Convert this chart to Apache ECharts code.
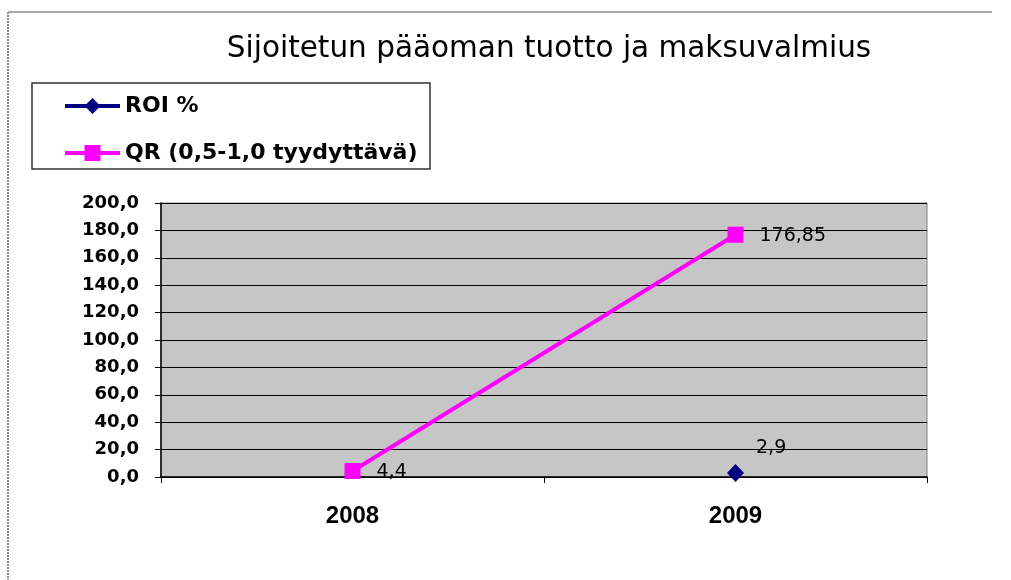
<!DOCTYPE html>
<html>
<head>
<meta charset="utf-8">
<script src="https://cdn.jsdelivr.net/npm/echarts@6/dist/echarts.min.js"></script>
<style>
  html, body { margin: 0; padding: 0; background: #fff; }
  #chart { width: 1011px; height: 580px; }
</style>
</head>
<body>
<div id="chart"></div>
<script>
// vuodet ja sarjat
var years = ['2008', '2009'];
var roi = [null, 2.9];
var qr = [4.4, 176.85];
var yTicks = { min: 0, max: 200, step: 20 };

function fi(v, d) {
    return v.toFixed(d).replace('.', ',');
}
function lbl(p) {
    return String(p.value).replace('.', ',');
}

var chart = echarts.init(document.getElementById('chart'));
chart.setOption({
    backgroundColor: '#fff',
    textStyle: { fontFamily: 'DejaVu Sans, sans-serif' },
    title: {
        text: 'Sijoitetun pääoman tuotto ja maksuvalmius',
        left: 544,
        textAlign: 'center',
        top: 29,
        textStyle: { fontSize: 29.5, fontWeight: 'normal', color: '#000', fontFamily: 'DejaVu Sans' }
    },
    legend: {
        orient: 'vertical',
        left: 32,
        top: 83,
        padding: [12, 8, 6, 31],
        itemGap: 25,
        itemWidth: 55,
        itemHeight: 20,
        borderWidth: 0,
        lineStyle: { width: 4 },
        textStyle: { fontSize: 22, fontWeight: 'bold', color: '#000', fontFamily: 'DejaVu Sans' },
        data: ['ROI %', 'QR (0,5-1,0 tyydyttävä)']
    },
    grid: { left: 161, right: 84, top: 203, bottom: 103, show: true, backgroundColor: '#c6c6c6', borderColor: '#808080', borderWidth: 1 },
    xAxis: {
        type: 'category',
        data: years,
        axisLine: { lineStyle: { color: '#000', width: 1.5 } },
        axisTick: { show: true, length: 6, lineStyle: { color: '#000' } },
        axisLabel: { fontSize: 24, fontWeight: 'bold', color: '#000', margin: 27, fontFamily: 'Liberation Sans' }
    },
    yAxis: {
        type: 'value',
        min: yTicks.min,
        max: yTicks.max,
        interval: yTicks.step,
        axisLine: { show: true, lineStyle: { color: '#000', width: 1.5 } },
        axisTick: { show: true, length: 6, lineStyle: { color: '#000' } },
        splitLine: { lineStyle: { color: '#000', width: 1.2 } },
        axisLabel: {
            fontSize: 18, fontWeight: 'bold', color: '#000', margin: 22,
            padding: [4, 0, 0, 0],
            formatter: function (v) { return fi(v, 1); }
        }
    },
    series: [
        {
            name: 'ROI %',
            type: 'line',
            data: roi,
            symbol: 'diamond',
            symbolSize: [17, 18],
            color: '#000080',
            lineStyle: { width: 4, color: '#000080' },
            label: {
                show: true, position: 'right', offset: [7, -25],
                fontSize: 19, color: '#000',
                formatter: lbl
            }
        },
        {
            name: 'QR (0,5-1,0 tyydyttävä)',
            type: 'line',
            data: qr,
            symbol: 'rect',
            symbolSize: 16,
            color: '#ff00ff',
            lineStyle: { width: 4, color: '#ff00ff' },
            label: {
                show: true, position: 'right', offset: [11, 1],
                fontSize: 19, color: '#000',
                formatter: lbl
            }
        }
    ],
    graphic: [
        { type: 'line', shape: { x1: 8, y1: 12, x2: 8, y2: 580 }, style: { stroke: '#888', lineWidth: 2, lineDash: [2, 1] } },
        { type: 'line', shape: { x1: 8, y1: 12, x2: 992, y2: 12 }, style: { stroke: '#aaa', lineWidth: 2 } },
        { type: 'rect', shape: { x: 32, y: 83, width: 398, height: 86 }, style: { fill: 'none', stroke: '#333', lineWidth: 1.5 } }
    ]
});
</script>
</body>
</html>
